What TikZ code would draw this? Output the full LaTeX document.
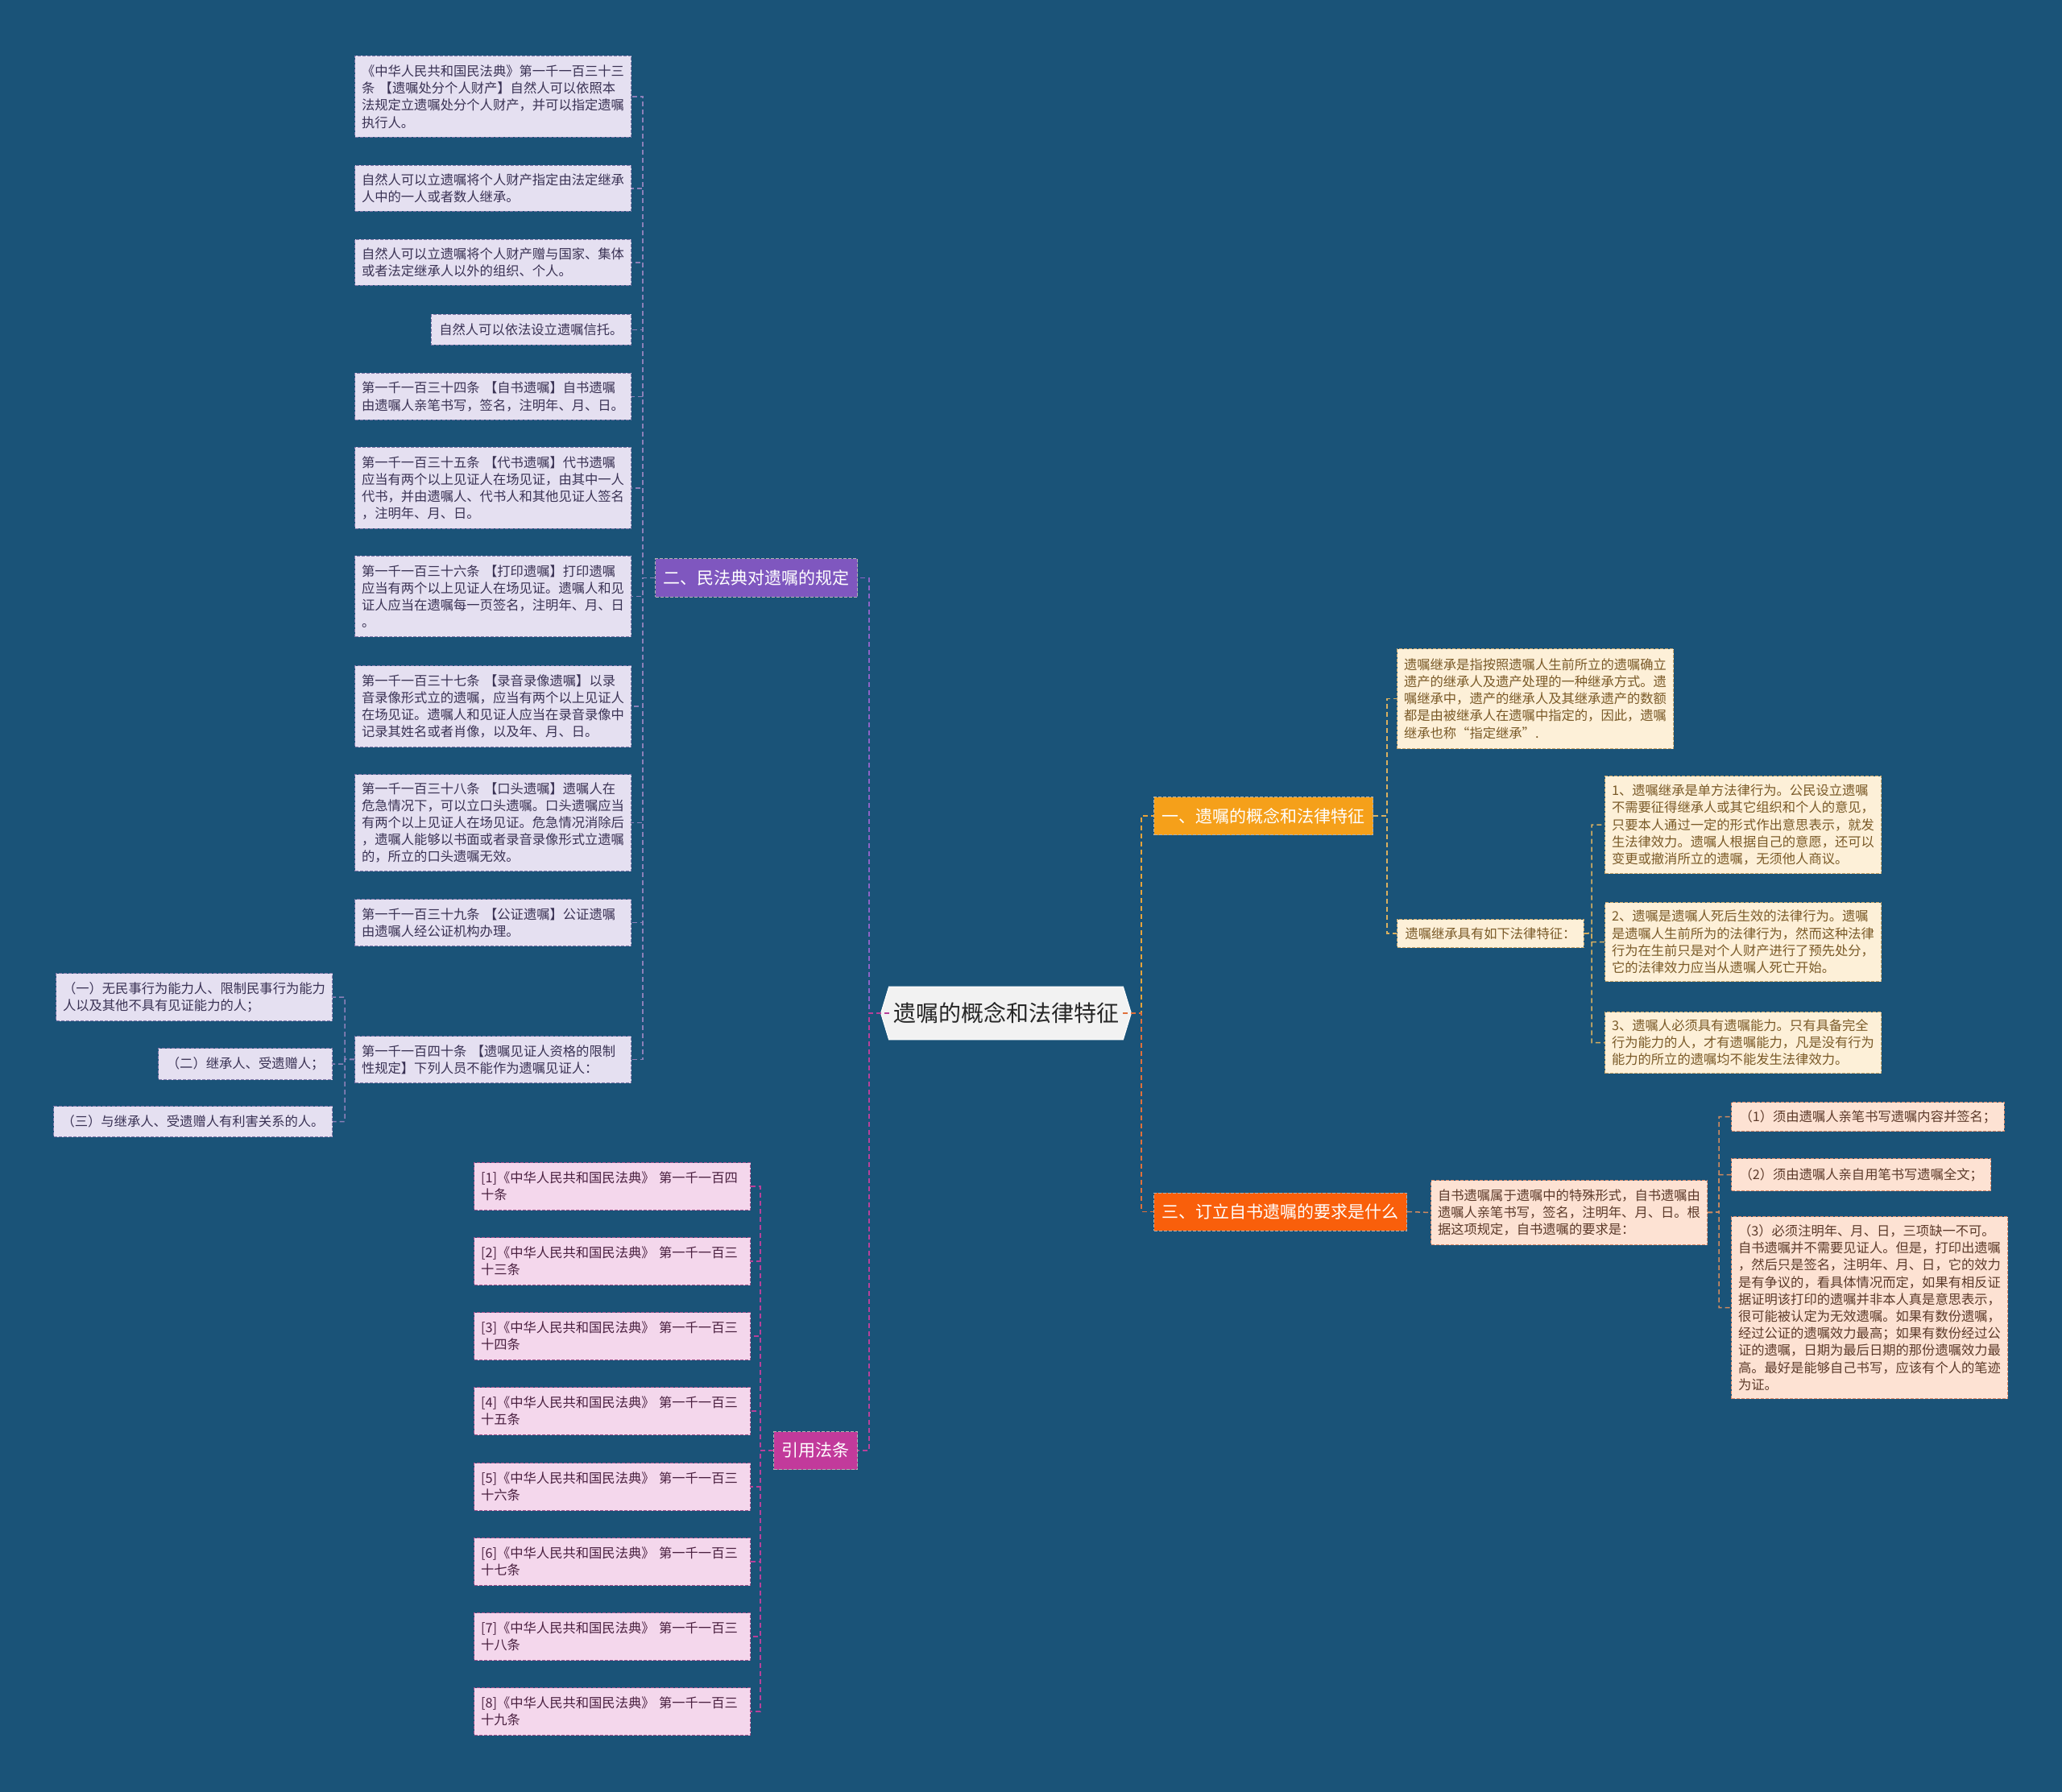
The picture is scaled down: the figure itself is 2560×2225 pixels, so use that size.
\documentclass[tikz,border=0pt]{standalone}
\usepackage{fontspec}
\setmainfont{Noto Sans CJK SC}
\usetikzlibrary{backgrounds}
\definecolor{bg}{HTML}{1A5378}
\definecolor{lavfill}{HTML}{E5E0F1}
\definecolor{lavdraw}{HTML}{8077A8}
\definecolor{lavtext}{HTML}{3A3254}
\definecolor{pnkfill}{HTML}{F4D7EC}
\definecolor{pnkdraw}{HTML}{A0508A}
\definecolor{pnktext}{HTML}{4A2040}
\definecolor{crmfill}{HTML}{FDF0D8}
\definecolor{crmdraw}{HTML}{C9A66B}
\definecolor{crmtext}{HTML}{7A5A28}
\definecolor{pchfill}{HTML}{FDE2D3}
\definecolor{pchdraw}{HTML}{D9896A}
\definecolor{pchtext}{HTML}{5C3A2A}
\definecolor{b1fill}{HTML}{F5A01A}
\definecolor{b2fill}{HTML}{7F57BF}
\definecolor{b3fill}{HTML}{F95F0B}
\definecolor{b4fill}{HTML}{C23A9B}
\definecolor{rootfill}{HTML}{F2F2F2}
\definecolor{cpur}{HTML}{8D63C6}
\definecolor{cmag}{HTML}{B8409A}
\definecolor{clav}{HTML}{8C80B8}
\definecolor{cyel}{HTML}{E8A33A}
\definecolor{corg}{HTML}{E0703A}
\definecolor{ccrm}{HTML}{D9B060}
\definecolor{cpch}{HTML}{D08A60}
\tikzset{
  conn/.style={line width=0.75pt, dash pattern=on 3pt off 2pt},
  card/.style={draw, line width=0.5pt, dash pattern=on 2pt off 1pt, inner ysep=0pt, align=left, font=\fontsize{8.15}{10.6}\selectfont},
  wide/.style={card, text width=163pt, inner xsep=4.25pt},
  narrow/.style={card, inner xsep=5pt},
  lav/.style={fill=lavfill, draw=lavdraw, text=lavtext},
  pnk/.style={fill=pnkfill, draw=pnkdraw, text=pnktext},
  crm/.style={fill=crmfill, draw=crmdraw, text=crmtext},
  pch/.style={fill=pchfill, draw=pchdraw, text=pchtext},
  ht/.style={minimum height=#1},
  branch/.style={inner xsep=5pt, inner ysep=0pt, minimum height=23.5pt, font=\fontsize{10.5}{12}\selectfont, text=white, draw=white!70!black, line width=0.5pt, dash pattern=on 2pt off 1pt},
}
\begin{document}
\begin{tikzpicture}[x=0.5pt,y=-0.5pt]
\begin{scope}[on background layer]
\fill[bg] (0,0) rectangle (2560,2225);
\end{scope}
\useasboundingbox (0,0) rectangle (2560,2225);

% root
\node[minimum width=145pt, minimum height=32.5pt, inner sep=0pt, font=\fontsize{14}{16}\selectfont, text=black!85] (root) at (1249,1258) {遗嘱的概念和法律特征};
\begin{scope}[on background layer]
\filldraw[fill=rootfill, draw=white, line width=0.5pt] ([xshift=-5pt]root.west) -- (root.north west) -- (root.north east) -- ([xshift=5pt]root.east) -- (root.south east) -- (root.south west) -- cycle;
\end{scope}

% branches
\node[branch, fill=b2fill, anchor=east] (b2) at (1065,717.5) {二、民法典对遗嘱的规定};
\node[branch, fill=b4fill, anchor=east] (b4) at (1065,1801) {引用法条};
\node[branch, fill=b1fill, anchor=west] (b1) at (1432,1013) {一、遗嘱的概念和法律特征};
\node[branch, fill=b3fill, anchor=west] (b3) at (1432,1504.5) {三、订立自书遗嘱的要求是什么};

% branch 2 children
\node[wide, lav, ht=50.5pt, anchor=north east] (n1) at (784,69) {《中华人民共和国民法典》第一千一百三十三\\条 【遗嘱处分个人财产】自然人可以依照本\\法规定立遗嘱处分个人财产，并可以指定遗嘱\\执行人。};
\node[wide, lav, ht=28.5pt, anchor=north east] (n2) at (784,205) {自然人可以立遗嘱将个人财产指定由法定继承\\人中的一人或者数人继承。};
\node[wide, lav, ht=28.5pt, anchor=north east] (n3) at (784,297) {自然人可以立遗嘱将个人财产赠与国家、集体\\或者法定继承人以外的组织、个人。};
\node[narrow, lav, ht=19pt, anchor=north east] (n4) at (784,390) {自然人可以依法设立遗嘱信托。};
\node[wide, lav, ht=29pt, anchor=north east] (n5) at (784,463) {第一千一百三十四条 【自书遗嘱】自书遗嘱\\由遗嘱人亲笔书写，签名，注明年、月、日。};
\node[wide, lav, ht=50.5pt, anchor=north east] (n6) at (784,555) {第一千一百三十五条 【代书遗嘱】代书遗嘱\\应当有两个以上见证人在场见证，由其中一人\\代书，并由遗嘱人、代书人和其他见证人签名\\，注明年、月、日。};
\node[wide, lav, ht=50pt, anchor=north east] (n7) at (784,690) {第一千一百三十六条 【打印遗嘱】打印遗嘱\\应当有两个以上见证人在场见证。遗嘱人和见\\证人应当在遗嘱每一页签名，注明年、月、日\\。};
\node[wide, lav, ht=50.5pt, anchor=north east] (n8) at (784,826) {第一千一百三十七条 【录音录像遗嘱】以录\\音录像形式立的遗嘱，应当有两个以上见证人\\在场见证。遗嘱人和见证人应当在录音录像中\\记录其姓名或者肖像，以及年、月、日。};
\node[wide, lav, ht=60pt, anchor=north east] (n9) at (784,961) {第一千一百三十八条 【口头遗嘱】遗嘱人在\\危急情况下，可以立口头遗嘱。口头遗嘱应当\\有两个以上见证人在场见证。危急情况消除后\\，遗嘱人能够以书面或者录音录像形式立遗嘱\\的，所立的口头遗嘱无效。};
\node[wide, lav, ht=29pt, anchor=north east] (n10) at (784,1116) {第一千一百三十九条 【公证遗嘱】公证遗嘱\\由遗嘱人经公证机构办理。};
\node[wide, lav, ht=29pt, anchor=north east] (n11) at (784,1286) {第一千一百四十条 【遗嘱见证人资格的限制\\性规定】下列人员不能作为遗嘱见证人：};

\node[wide, lav, ht=29.5pt, anchor=north east] (k1) at (413,1208) {（一）无民事行为能力人、限制民事行为能力\\人以及其他不具有见证能力的人；};
\node[narrow, lav, ht=19.5pt, anchor=north east] (k2) at (413,1301) {（二）继承人、受遗赠人；};
\node[narrow, lav, ht=19pt, anchor=north east] (k3) at (413,1373) {（三）与继承人、受遗赠人有利害关系的人。};

% references
\node[wide, pnk, ht=29.5pt, anchor=north west] (r1) at (588,1443) {[1]《中华人民共和国民法典》 第一千一百四\\十条};
\node[wide, pnk, ht=29.5pt, anchor=north west] (r2) at (588,1536) {[2]《中华人民共和国民法典》 第一千一百三\\十三条};
\node[wide, pnk, ht=29.5pt, anchor=north west] (r3) at (588,1629) {[3]《中华人民共和国民法典》 第一千一百三\\十四条};
\node[wide, pnk, ht=29.5pt, anchor=north west] (r4) at (588,1722) {[4]《中华人民共和国民法典》 第一千一百三\\十五条};
\node[wide, pnk, ht=29.5pt, anchor=north west] (r5) at (588,1816) {[5]《中华人民共和国民法典》 第一千一百三\\十六条};
\node[wide, pnk, ht=29.5pt, anchor=north west] (r6) at (588,1909) {[6]《中华人民共和国民法典》 第一千一百三\\十七条};
\node[wide, pnk, ht=29.5pt, anchor=north west] (r7) at (588,2002) {[7]《中华人民共和国民法典》 第一千一百三\\十八条};
\node[wide, pnk, ht=29.5pt, anchor=north west] (r8) at (588,2095) {[8]《中华人民共和国民法典》 第一千一百三\\十九条};

% branch 1 children
\node[wide, crm, ht=62pt, anchor=north west] (c1a) at (1734,805) {遗嘱继承是指按照遗嘱人生前所立的遗嘱确立\\遗产的继承人及遗产处理的一种继承方式。遗\\嘱继承中，遗产的继承人及其继承遗产的数额\\都是由被继承人在遗嘱中指定的，因此，遗嘱\\继承也称“指定继承”.};
\node[narrow, crm, ht=17.5pt, anchor=north west] (c1b) at (1734,1141) {遗嘱继承具有如下法律特征：};
\node[wide, crm, ht=60.5pt, anchor=north west] (d1) at (1992,963) {1、遗嘱继承是单方法律行为。公民设立遗嘱\\不需要征得继承人或其它组织和个人的意见，\\只要本人通过一定的形式作出意思表示，就发\\生法律效力。遗嘱人根据自己的意愿，还可以\\变更或撤消所立的遗嘱，无须他人商议。};
\node[wide, crm, ht=49pt, anchor=north west] (d2) at (1992,1120) {2、遗嘱是遗嘱人死后生效的法律行为。遗嘱\\是遗嘱人生前所为的法律行为，然而这种法律\\行为在生前只是对个人财产进行了预先处分，\\它的法律效力应当从遗嘱人死亡开始。};
\node[wide, crm, ht=38pt, anchor=north west] (d3) at (1992,1256) {3、遗嘱人必须具有遗嘱能力。只有具备完全\\行为能力的人，才有遗嘱能力，凡是没有行为\\能力的所立的遗嘱均不能发生法律效力。};

% branch 3 children
\node[wide, pch, ht=40pt, anchor=north west] (e1) at (1776,1465) {自书遗嘱属于遗嘱中的特殊形式，自书遗嘱由\\遗嘱人亲笔书写，签名，注明年、月、日。根\\据这项规定，自书遗嘱的要求是：};
\node[narrow, pch, ht=18pt, anchor=north west] (f1) at (2149,1368) {（1）须由遗嘱人亲笔书写遗嘱内容并签名；};
\node[narrow, pch, ht=20pt, anchor=north west] (f2) at (2149,1438) {（2）须由遗嘱人亲自用笔书写遗嘱全文；};
\node[wide, pch, ht=113pt, anchor=north west] (f3) at (2149,1510) {（3）必须注明年、月、日，三项缺一不可。\\自书遗嘱并不需要见证人。但是，打印出遗嘱\\，然后只是签名，注明年、月、日，它的效力\\是有争议的，看具体情况而定，如果有相反证\\据证明该打印的遗嘱并非本人真是意思表示，\\很可能被认定为无效遗嘱。如果有数份遗嘱，\\经过公证的遗嘱效力最高；如果有数份经过公\\证的遗嘱，日期为最后日期的那份遗嘱效力最\\高。最好是能够自己书写，应该有个人的笔迹\\为证。};

% spine coordinates
\coordinate (Ls) at (1079,1258);
\coordinate (Rs) at (1417,1258);
\coordinate (s2) at (798,717.5);
\coordinate (s11) at (428,1315);
\coordinate (s4) at (944,1801);
\coordinate (s1) at (1722,1013);
\coordinate (s1b) at (1976,1158.5);
\coordinate (s3) at (2134,1505);

% connectors
\draw[conn, cpur] (root.west) -- (Ls) |- (b2.east);
\draw[conn, cmag] (root.west) -- (Ls) |- (b4.east);
\draw[conn, cyel] (root.east) -- (Rs) |- (b1.west);
\draw[conn, corg] (root.east) -- (Rs) |- (b3.west);
\foreach \n in {n1,n2,n3,n4,n5,n6,n7,n8,n9,n10,n11}
  \draw[conn, clav] (b2.west) -- (s2) |- (\n.east);
\foreach \n in {k1,k2,k3}
  \draw[conn, clav] (n11.west) -- (s11) |- (\n.east);
\foreach \n in {r1,r2,r3,r4,r5,r6,r7,r8}
  \draw[conn, cmag] (b4.west) -- (s4) |- (\n.east);
\foreach \n in {c1a,c1b}
  \draw[conn, ccrm] (b1.east) -- (s1) |- (\n.west);
\foreach \n in {d1,d2,d3}
  \draw[conn, ccrm] (c1b.east) -- (s1b) |- (\n.west);
\draw[conn, cpch] (b3.east) -- (e1.west);
\foreach \n in {f1,f2,f3}
  \draw[conn, cpch] (e1.east) -- (s3) |- (\n.west);
\end{tikzpicture}
\end{document}
